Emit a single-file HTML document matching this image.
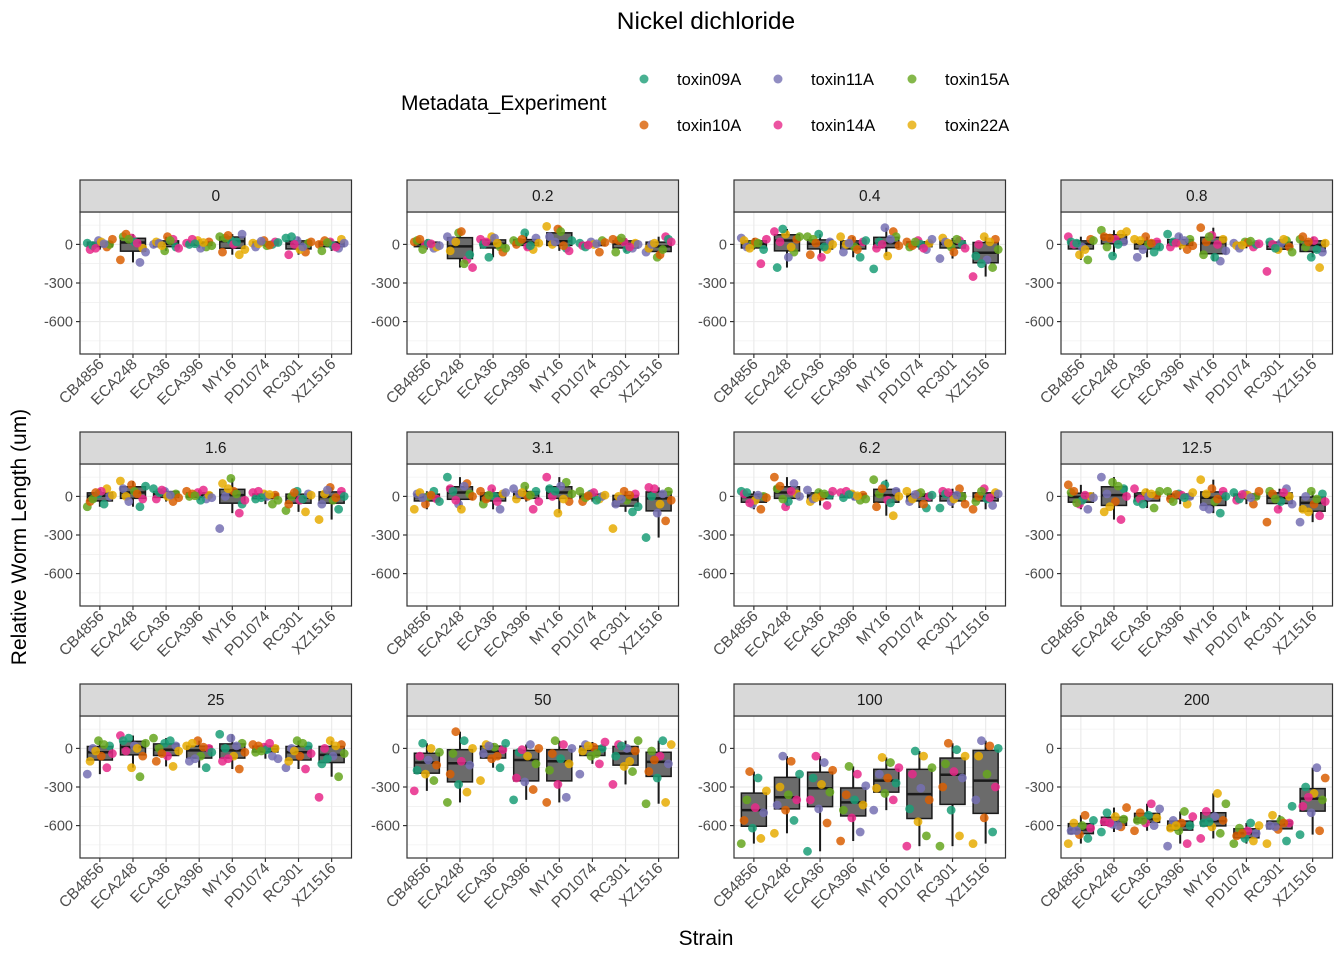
<!DOCTYPE html>
<html><head><meta charset="utf-8"><style>
html,body{margin:0;padding:0;background:#fff;}
svg text{font-family:"Liberation Sans",Arial,sans-serif;}
</style></head><body>
<svg id="chart" width="1344" height="960" viewBox="0 0 1344 960" xmlns="http://www.w3.org/2000/svg">
<text x="706" y="29" font-size="24.5" text-anchor="middle" fill="#000">Nickel dichloride</text>
<text x="401" y="110" font-size="21" fill="#000">Metadata_Experiment</text>
<g id="legend"></g>
<g id="panels"></g>
<text transform="translate(26,537) rotate(-90)" font-size="21" text-anchor="middle" fill="#000">Relative Worm Length (um)</text>
<text x="706" y="945" font-size="21" text-anchor="middle" fill="#000">Strain</text>
</svg>
<script>
const strains = ["CB4856","ECA248","ECA36","ECA396","MY16","PD1074","RC301","XZ1516"];
const concentrations = ["0","0.2","0.4","0.8","1.6","3.1","6.2","12.5","25","50","100","200"];
const experiments = ["toxin09A","toxin10A","toxin11A","toxin14A","toxin15A","toxin22A"];
const yTicks = [0,-300,-600];
const vals0 = [[10,-20,30,-40,0,20,-10,40,5,-30],[-120,-140,50,60,-30,20,80,-60,10,40],[0,40,-50,20,-20,60,10,-30,30,-10],[10,-20,30,0,20,-30,40,-10,15,5],[60,-80,30,-60,80,0,50,-40,20,70],[10,0,30,-20,20,-10,5,15,-5,25],[50,-60,30,-80,10,-40,60,20,-20,0],[0,-30,20,-50,40,-10,30,10,-20,15]];
const vals02 = [[20,-30,0,30,-20,10,40,-10,5,-40],[60,-120,90,-50,-80,100,30,-180,-150,20],[40,-20,60,0,-60,50,20,-30,10,-100],[30,-40,90,0,50,-20,20,10,-10,40],[140,-30,120,60,-50,100,0,30,-10,20],[10,-60,20,-10,30,0,-20,15,5,-5],[40,-30,20,-60,10,-40,30,0,-20,50],[-60,60,-100,-30,40,-80,0,20,-40,10]];
const vals04 = [[50,-150,0,30,-40,20,-20,40,10,-30],[100,-60,80,-180,40,-100,20,60,-20,120],[60,-40,80,-80,20,-100,40,0,-20,10],[60,-100,40,-60,20,-20,0,30,-40,10],[-190,100,130,-30,60,-90,20,-10,40,0],[20,-40,30,-20,10,0,-10,40,-30,20],[-110,30,-20,50,0,-60,20,-30,40,10],[-250,-180,60,-90,40,-120,0,-40,20,-150]];
const vals08 = [[60,-120,-80,20,40,-20,0,30,-40,10],[110,80,-90,60,20,40,-20,100,0,50],[40,-60,60,-100,20,0,30,-20,10,-40],[80,-40,60,-20,40,0,20,-10,30,10],[130,-130,70,-80,40,-100,20,-50,0,60],[10,-20,20,-10,0,15,-30,5,25,-5],[-210,30,-40,20,-20,10,0,-60,40,-30],[40,-180,-100,60,-60,30,-20,10,-40,20]];
const vals16 = [[-80,60,20,-40,0,40,-20,10,-60,30],[120,-80,90,60,-20,40,0,80,20,-40],[60,-40,40,-20,20,0,30,-10,10,50],[40,-20,30,0,10,-30,20,-10,50,5],[-250,-130,140,100,-60,40,0,-30,20,60],[30,-60,20,-20,10,0,40,-30,15,-10],[-110,-120,40,-60,20,-30,0,10,-20,30],[-180,-100,70,-60,40,-30,20,0,-10,50]];
const vals31 = [[-100,40,-60,20,-20,0,30,-40,10,-10],[150,100,-60,60,20,-100,40,0,80,-30],[40,-100,60,-60,20,0,-20,30,-40,10],[60,-100,80,-20,40,0,20,-40,10,30],[150,110,-130,60,-40,80,0,20,-20,40],[40,-20,20,-40,0,30,-10,10,-30,5],[-250,-120,40,-60,20,-30,0,-80,10,-20],[-320,-190,-130,70,40,-60,0,-30,20,60]];
const vals62 = [[40,-100,-60,20,0,-30,30,-10,10,-50],[150,100,-80,60,20,-40,80,0,40,-20],[50,-70,30,-40,10,0,-20,40,20,-10],[30,-30,20,-10,10,0,40,-20,5,15],[130,-150,90,-80,40,-30,20,0,-50,60],[40,-90,20,-40,0,30,-20,10,-60,15],[-90,60,-40,40,0,-20,20,-60,10,30],[-100,-70,60,-40,30,-20,0,20,-10,40]];
const vals125 = [[90,-100,-60,30,0,-30,40,-10,10,-50],[150,-180,110,-120,60,-40,20,0,80,-80],[60,-90,30,-40,10,0,-20,40,20,-60],[40,-60,20,-20,0,10,-40,30,-10,15],[130,-130,60,-80,40,-40,20,0,-20,-100],[30,-60,20,-30,0,10,-20,40,-10,15],[-200,60,-100,40,0,-40,20,-60,30,-20],[-200,-150,40,-100,20,-60,0,-40,-20,-120]];
const vals25 = [[-200,-150,60,-100,20,-60,0,-40,30,-20],[100,-220,-150,60,-60,20,-20,40,0,80],[80,-140,40,-100,20,-60,0,-20,60,-40],[20,-150,60,-100,0,-60,40,-30,10,-80],[110,-160,80,-100,40,-60,0,-30,20,-80],[30,-60,10,-30,0,-10,20,-80,40,-20],[-150,-160,60,-100,20,-60,0,-40,40,-20],[-380,-220,60,-120,30,-60,0,-40,20,-80]];
const vals50 = [[-330,-250,-200,-170,-130,-90,-60,-30,0,40],[-420,-340,-280,-200,-130,-100,-40,0,60,130],[-250,-150,-80,-40,-10,10,30,40,-60,20],[-400,-320,-260,-230,-120,-60,-30,0,30,-10],[-420,-380,-280,-170,-120,-80,-40,0,30,60],[-200,-120,-60,-20,0,10,30,50,-40,20],[-280,-180,-140,-60,-20,0,30,60,-100,20],[-430,-420,-230,-180,-120,-60,-20,30,60,-90]];
const vals100 = [[-740,-700,-620,-560,-500,-460,-400,-330,-230,-180],[-660,-560,-480,-440,-400,-360,-300,-200,-100,-60],[-800,-580,-470,-400,-340,-280,-230,-170,-110,-60],[-720,-650,-540,-480,-440,-400,-360,-290,-200,-140],[-480,-400,-350,-310,-270,-230,-200,-150,-110,-70],[-760,-680,-570,-470,-400,-310,-200,-150,-60,-20],[-760,-680,-480,-300,-230,-180,-120,-60,-10,40],[-740,-650,-540,-400,-300,-200,-60,0,20,60]];
const vals200 = [[-740,-700,-670,-640,-620,-600,-580,-560,-520,-640],[-650,-610,-590,-570,-550,-530,-500,-460,-600,-580],[-640,-600,-580,-560,-540,-520,-500,-470,-430,-560],[-760,-740,-640,-620,-600,-580,-560,-530,-490,-600],[-700,-660,-610,-580,-560,-530,-490,-430,-350,-570],[-740,-720,-700,-680,-660,-640,-620,-600,-580,-660],[-740,-720,-630,-600,-580,-560,-520,-450,-580,-610],[-670,-640,-500,-450,-400,-350,-300,-230,-150,-380]];
const panelValues = [vals0,vals02,vals04,vals08,vals16,vals31,vals62,vals125,vals25,vals50,vals100,vals200];

const NS="http://www.w3.org/2000/svg";
const colors=["#1B9E77","#D95F02","#7570B3","#E7298A","#66A61E","#E6AB02"];
function mk(tag,attrs,parent){const e=document.createElementNS(NS,tag);for(const k in attrs)e.setAttribute(k,attrs[k]);parent.appendChild(e);return e;}
const lg=document.getElementById('legend');
experiments.forEach((ex,i)=>{const col=Math.floor(i/2),row=i%2;const cx=644+col*134,cy=79+row*46;
 const g=mk('g',{},lg);
 
 
 mk('circle',{cx:cx,cy:cy,r:4.5,fill:colors[i],'fill-opacity':0.8},g);
 const t=mk('text',{x:cx+33,y:cy+6,'font-size':16.5,fill:'#000'},g);t.textContent=ex;});
const colX=[80,407,734,1061],rowY=[180,432,684],PW=271.5,SH=32,PH=142;
const vMax=252,vMin=-852;
function quant(a,p){const s=[...a].sort((x,y)=>x-y);const h=(s.length-1)*p,l=Math.floor(h);return s[l]+(s[Math.min(l+1,s.length-1)]-s[l])*(h-l);}
const root=document.getElementById('panels');
concentrations.forEach((c,pi)=>{
 const x0=colX[pi%4],st=rowY[Math.floor(pi/4)],top=st+SH,bot=top+PH;
 const xs=i=>x0+(i+0.6)/8.2*PW;
 const ys=v=>top+(vMax-v)/(vMax-vMin)*PH;
 const g=mk('g',{},root);
 
 
 mk('rect',{x:x0,y:top,width:PW,height:PH,fill:'#fff'},g);
 [150,-150,-450,-750].forEach(v=>mk('line',{x1:x0,x2:x0+PW,y1:ys(v),y2:ys(v),stroke:'#EBEBEB','stroke-width':0.6},g));
 yTicks.forEach(v=>mk('line',{x1:x0,x2:x0+PW,y1:ys(v),y2:ys(v),stroke:'#EBEBEB','stroke-width':1.2},g));
 strains.forEach((s,i)=>mk('line',{x1:xs(i),x2:xs(i),y1:top,y2:bot,stroke:'#EBEBEB','stroke-width':1.2},g));
 panelValues[pi].forEach((arr,i)=>{
  const q1=quant(arr,0.25),md=quant(arr,0.5),q3=quant(arr,0.75),iqr=q3-q1;
  const inl=arr.filter(v=>v>=q1-1.5*iqr&&v<=q3+1.5*iqr);
  const lo=Math.min(...inl),hi=Math.max(...inl),cx=xs(i),bw=12.5;
  const b=mk('g',{},g);
  
  
  mk('line',{x1:cx,x2:cx,y1:ys(hi),y2:ys(q3),stroke:'#1a1a1a','stroke-width':2},b);
  mk('line',{x1:cx,x2:cx,y1:ys(q1),y2:ys(lo),stroke:'#1a1a1a','stroke-width':2},b);
  mk('rect',{x:cx-bw,y:ys(q3),width:2*bw,height:Math.max(0.5,ys(q1)-ys(q3)),fill:'#6b6b6b',stroke:'#1a1a1a','stroke-width':1.5},b);
  mk('line',{x1:cx-bw,x2:cx+bw,y1:ys(md),y2:ys(md),stroke:'#1a1a1a','stroke-width':2.5},b);
 });
 panelValues[pi].forEach((arr,i)=>{
  arr.forEach((v,k)=>{
   const off=(((k*7)%10)-4.5)/4.5*0.38;
   const p=mk('circle',{cx:xs(i+off),cy:ys(v),r:4.4,fill:colors[(k+i+pi)%6],'fill-opacity':0.85},g);
   
   
  });
 });
 mk('rect',{x:x0,y:top,width:PW,height:PH,fill:'none',stroke:'#333','stroke-width':1.2},g);
 mk('rect',{x:x0,y:st,width:PW,height:SH,fill:'#D9D9D9',stroke:'#333','stroke-width':1.2},g);
 const stt=mk('text',{x:x0+PW/2,y:st+21,'font-size':15.5,'text-anchor':'middle',fill:'#1a1a1a'},g);stt.textContent=c;
 
 
 yTicks.forEach(v=>{mk('line',{x1:x0-4,x2:x0,y1:ys(v),y2:ys(v),stroke:'#333','stroke-width':1.2},g);
  const t=mk('text',{x:x0-7,y:ys(v)+5,'font-size':14.5,'text-anchor':'end',fill:'#4D4D4D'},g);t.textContent=v;
  
  });
 strains.forEach((s,i)=>{mk('line',{x1:xs(i),x2:xs(i),y1:bot,y2:bot+4,stroke:'#333','stroke-width':1.2},g);
  const t=mk('text',{transform:`translate(${xs(i)+5},${bot+11}) rotate(-45)`,'font-size':15.5,'text-anchor':'end',fill:'#4D4D4D'},g);t.textContent=s;
  
  });
});
</script>
</body></html>
